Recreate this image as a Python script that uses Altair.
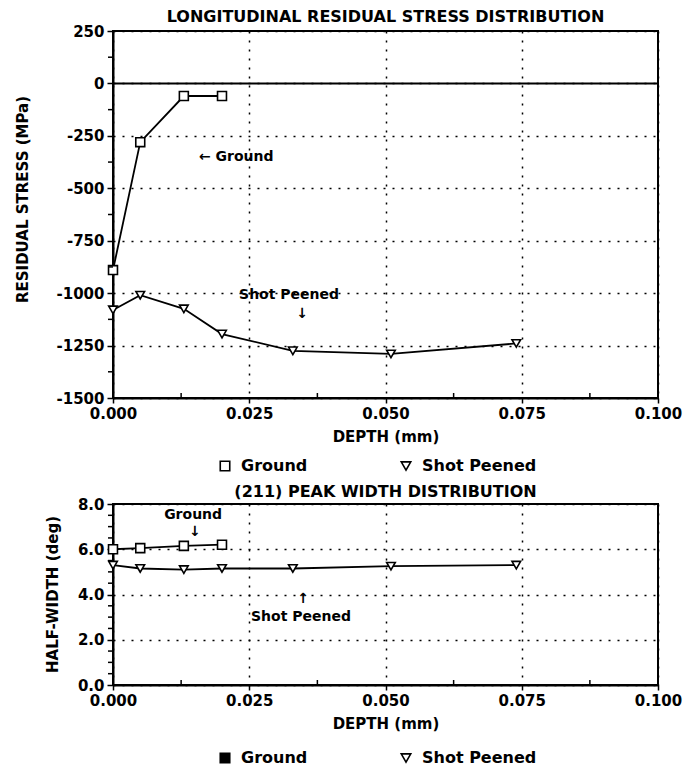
import altair as alt
import pandas as pd

# ---------------- data ----------------
depth_ground = [0.000, 0.005, 0.013, 0.020]
depth_peened = [0.000, 0.005, 0.013, 0.020, 0.033, 0.051, 0.074]

stress_ground = [-890, -280, -60, -60]
stress_peened = [-1080, -1010, -1075, -1195, -1275, -1290, -1240]

width_ground = [6.0, 6.05, 6.15, 6.2]
width_peened = [5.3, 5.15, 5.1, 5.15, 5.15, 5.25, 5.3]

series_names = ["Ground", "Shot Peened"]

x_ticks = [0.0, 0.025, 0.05, 0.075, 0.1]
x_minor = [0.0125, 0.0375, 0.0625, 0.0875]
stress_ticks = [250, 0, -250, -500, -750, -1000, -1250, -1500]
stress_minor = [125, -125, -375, -625, -875, -1125, -1375]
width_ticks = [0.0, 2.0, 4.0, 6.0, 8.0]
width_minor = [0.5, 1.0, 1.5, 2.5, 3.0, 3.5, 4.5, 5.0, 5.5, 6.5, 7.0, 7.5]

top_notes_text = ["\u2190 Ground", "Shot Peened", "\u2193"]
top_notes_x = [0.0226, 0.0323, 0.0347]
top_notes_y = [-353, -1010, -1100]

bot_notes_text = ["Ground", "\u2193", "\u2191", "Shot Peened"]
bot_notes_x = [0.0147, 0.0150, 0.0349, 0.0345]
bot_notes_y = [7.5, 6.75, 3.8, 2.99]

FONT = "DejaVu Sans"
W = 545


def panel(g_vals, p_vals, title, ytitle, domain, yticks, yminor, yexpr,
          height, notes, legend_fill, legend_y, ytitle_pad, zero_line,
          title_offset, ytitle_y):
    df = pd.DataFrame({
        "depth": depth_ground + depth_peened,
        "value": g_vals + p_vals,
        "series": ["Ground"] * len(depth_ground) + ["Shot Peened"] * len(depth_peened),
    })
    xscale = alt.Scale(domain=[0, 0.1], nice=False, zero=False, padding=0)
    yscale = alt.Scale(domain=domain, nice=False, zero=False, padding=0)
    xaxis = alt.Axis(values=x_ticks, format=".3f", title="DEPTH (mm)",
                     grid=True, gridDash=[2, 7], gridColor="black", gridWidth=1.5,
                     tickSize=5, labelPadding=3, titlePadding=8, labelFlush=False)
    yaxis = alt.Axis(values=yticks, labelExpr=yexpr, title=ytitle,
                     grid=True, gridDash=[2, 7], gridColor="black", gridWidth=1.5,
                     tickSize=6, labelPadding=3, titlePadding=ytitle_pad,
                     labelFlush=False, titleY=ytitle_y)

    base = alt.Chart(df)
    lines = base.mark_line(color="black", strokeWidth=1.8).encode(
        x=alt.X("depth:Q", scale=xscale, axis=xaxis),
        y=alt.Y("value:Q", scale=yscale, axis=yaxis),
        detail="series:N",
    )
    pts_g = base.transform_filter(alt.datum.series == "Ground").mark_point(
        shape="square", filled=True, fill="white", stroke="black",
        strokeWidth=1.6, size=80, opacity=1
    ).encode(x="depth:Q", y="value:Q")
    pts_p = base.transform_filter(alt.datum.series == "Shot Peened").mark_point(
        shape="triangle-down", filled=True, fill="white", stroke="black",
        strokeWidth=1.6, size=75, opacity=1
    ).encode(x="depth:Q", y="value:Q")

    leg = alt.Legend(orient="none", legendX=104, legendY=legend_y,
                     direction="horizontal", title=None, padding=0,
                     labelFont=FONT, labelFontSize=16, labelFontWeight="bold",
                     labelColor="black", labelOffset=8, columnPadding=90,
                     symbolSize=90, symbolStrokeColor="black",
                     symbolStrokeWidth=1.6)
    legend_layer = base.mark_point(size=0, filled=True, opacity=1).encode(
        x="depth:Q", y="value:Q",
        shape=alt.Shape("series:N", scale=alt.Scale(domain=series_names,
                        range=["square", "triangle-down"]), legend=leg),
        fill=alt.Fill("series:N", scale=alt.Scale(domain=series_names,
                      range=legend_fill), legend=leg),
        stroke=alt.Stroke("series:N", scale=alt.Scale(domain=series_names,
                          range=["black", "black"]), legend=leg),
    )

    ydf = pd.DataFrame({"value": yminor})
    yminor_rules = alt.Chart(ydf).mark_rule(color="black", strokeWidth=1.5).encode(
        y="value:Q", x=alt.value(-5), x2=alt.value(0))
    xdf = pd.DataFrame({"depth": x_minor})
    xminor_rules = alt.Chart(xdf).mark_rule(color="black", strokeWidth=1.5).encode(
        x="depth:Q", y=alt.value(height), y2=alt.value(height - 5))

    ndf = pd.DataFrame({"depth": notes[1], "value": notes[2], "label": notes[0]})
    note_layer = alt.Chart(ndf).mark_text(
        font=FONT, fontSize=14, fontWeight="bold", color="black"
    ).encode(x="depth:Q", y="value:Q", text="label:N")

    layers = [lines, pts_g, pts_p, legend_layer, yminor_rules, xminor_rules, note_layer]
    if zero_line:
        zdf = pd.DataFrame({"value": [0]})
        layers.insert(0, alt.Chart(zdf).mark_rule(color="black", strokeWidth=2).encode(y="value:Q"))

    return alt.layer(*layers).properties(
        width=W, height=height,
        title=alt.TitleParams(title, font=FONT, fontSize=16, fontWeight="bold",
                              anchor="middle", offset=title_offset, color="black"),
    )


top = panel(stress_ground, stress_peened,
            "LONGITUDINAL RESIDUAL STRESS DISTRIBUTION", "RESIDUAL STRESS (MPa)",
            [-1500, 250], stress_ticks, stress_minor, "'' + datum.value",
            367, (top_notes_text, top_notes_x, top_notes_y),
            ["white", "white"], 427, 26, True, -1, 168)

bottom = panel(width_ground, width_peened,
               "(211) PEAK WIDTH DISTRIBUTION", "HALF-WIDTH (deg)",
               [0, 8], width_ticks, width_minor, "format(datum.value, '.1f')",
               181, (bot_notes_text, bot_notes_x, bot_notes_y),
               ["black", "white"], 246, 17, False, -3, 90)

chart = alt.vconcat(top, bottom, spacing=8).resolve_scale(
    shape="independent", fill="independent", stroke="independent"
).properties(
    padding={"left": 6, "top": 0, "right": 5, "bottom": 0}
).configure_view(
    stroke="black", strokeWidth=2
).configure_axis(
    domainColor="black", domainWidth=2, tickColor="black", tickWidth=1.5,
    labelColor="black", titleColor="black",
    labelFont=FONT, labelFontSize=15, labelFontWeight="bold",
    titleFont=FONT, titleFontSize=15, titleFontWeight="bold",
)

chart.save("out.html", embed_options={"renderer": "svg", "actions": False})
